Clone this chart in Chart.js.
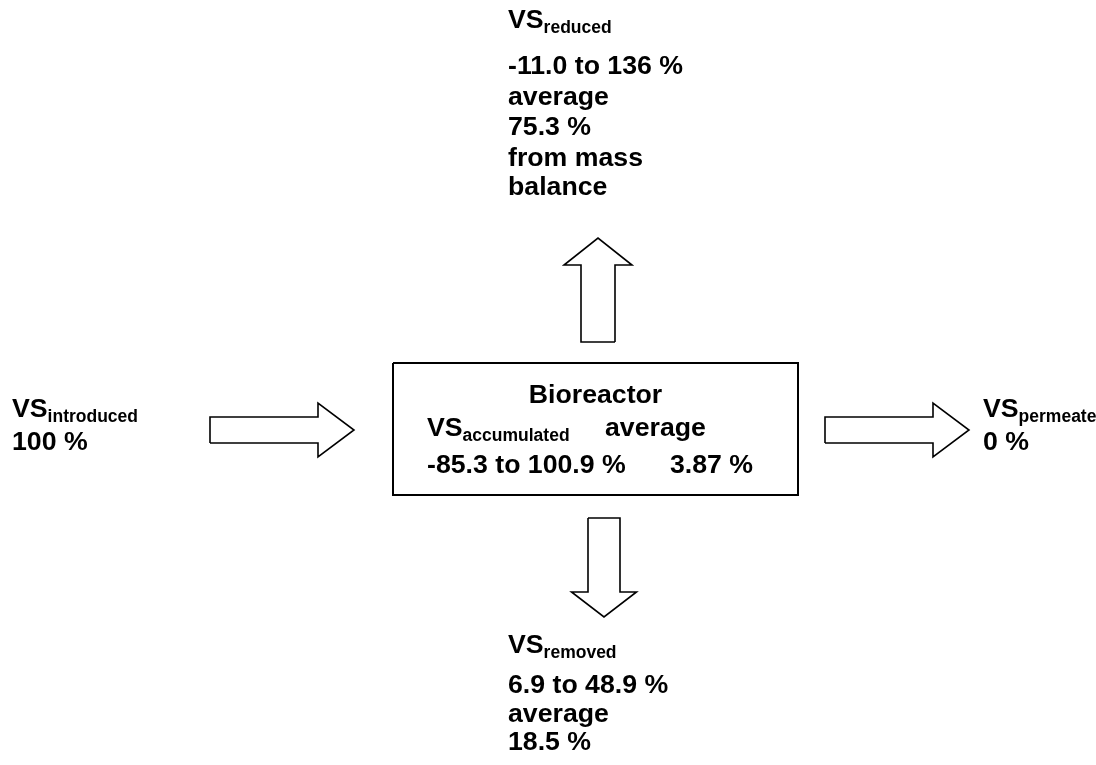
<!DOCTYPE html>
<html>
<head>
<meta charset="utf-8">
<script src="https://cdn.jsdelivr.net/npm/chart.js@4.4.1/dist/chart.umd.min.js"></script>
<style>
  html, body { margin: 0; padding: 0; background: #fff; }
  #wrap { width: 1096px; height: 765px; }
</style>
</head>
<body>
<div id="wrap"><canvas id="flowChart" width="1096" height="765"></canvas></div>
<script>
// flow labels (VS mass balance of the bioreactor)
const flowNames = ['introduced', 'reduced', 'permeate', 'removed'];
const flowRanges = ['100 %', '-11.0 to 136 %', '0 %', '6.9 to 48.9 %'];
const flowAverages = ['', '75.3 %', '', '18.5 %'];
const reactorRange = '-85.3 to 100.9 %';
const reactorAverage = '3.87 %';

// arrows: tail x/y -> tip x/y (diagram units = pixels of 1096x765 page)
const arrowTail = [[210, 430], [598, 342], [825, 430], [604, 518]];
const arrowTip  = [[354, 430], [598, 238], [969, 430], [604, 617]];
const shaftHalf = [13, 17, 13, 16];
const headHalf  = [27, 34, 27, 32.5];
const headLen   = [36, 27, 36, 25];

const reactorBox = [393, 363, 798, 495];

function arrowShape(i) {
  const [x0, y0] = arrowTail[i], [x1, y1] = arrowTip[i];
  const len = Math.hypot(x1 - x0, y1 - y0);
  const ux = (x1 - x0) / len, uy = (y1 - y0) / len;
  const nx = -uy, ny = ux;
  const bx = x1 - ux * headLen[i], by = y1 - uy * headLen[i];
  const s = shaftHalf[i], h = headHalf[i];
  const pts = [
    [x0 + nx * s, y0 + ny * s],
    [bx + nx * s, by + ny * s],
    [bx + nx * h, by + ny * h],
    [x1, y1],
    [bx - nx * h, by - ny * h],
    [bx - nx * s, by - ny * s],
    [x0 - nx * s, y0 - ny * s],
    [x0 + nx * s, y0 + ny * s]
  ];
  return pts.map(p => ({x: p[0], y: p[1]}));
}

function boxShape(b) {
  return [[b[0], b[1]], [b[2], b[1]], [b[2], b[3]], [b[0], b[3]], [b[0], b[1]]]
    .map(p => ({x: p[0], y: p[1]}));
}

const datasets = [];
for (let i = 0; i < arrowTail.length; i++) {
  datasets.push({ data: arrowShape(i), borderWidth: 1.6 });
}
datasets.push({ data: boxShape(reactorBox), borderWidth: 2 });

// text blocks: left x, baselines, lines of runs [text, isSub]
const FONT = "'Liberation Sans', Arial, sans-serif";
const textBlocks = [
  { x: 12, y: [417, 450], lines: [[['VS', 0], [flowNames[0], 1]], [[flowRanges[0], 0]]] },
  { x: 508, y: [28, 74, 105, 135, 166, 195], lines: [
      [['VS', 0], [flowNames[1], 1]], [[flowRanges[1], 0]], [['average', 0]],
      [[flowAverages[1], 0]], [['from mass', 0]], [['balance', 0]]] },
  { x: 983, y: [417, 450], lines: [[['VS', 0], [flowNames[2], 1]], [[flowRanges[2], 0]]] },
  { x: 508, y: [653, 693, 722, 750], lines: [
      [['VS', 0], [flowNames[3], 1]], [[flowRanges[3], 0]], [['average', 0]], [[flowAverages[3], 0]]] },
  { x: 427, y: [436, 473], lines: [[['VS', 0], ['accumulated', 1]], [[reactorRange, 0]]] },
  { x: 605, y: [436], lines: [[['average', 0]]] },
  { x: 670, y: [473], lines: [[[reactorAverage, 0]]] }
];

const textPlugin = {
  id: 'diagramText',
  afterDraw(chart) {
    const ctx = chart.ctx, sx = chart.scales.x, sy = chart.scales.y;
    ctx.save();
    ctx.fillStyle = '#000';
    ctx.textBaseline = 'alphabetic';
    // title in reactor box
    ctx.font = 'bold 26.7px ' + FONT;
    ctx.textAlign = 'center';
    ctx.fillText('Bioreactor', sx.getPixelForValue((reactorBox[0] + reactorBox[2]) / 2), sy.getPixelForValue(403));
    ctx.textAlign = 'left';
    textBlocks.forEach(b => {
      b.lines.forEach((line, li) => {
        let px = sx.getPixelForValue(b.x);
        const py = sy.getPixelForValue(b.y[li]);
        line.forEach(([t, sub]) => {
          ctx.font = (sub ? 'bold 17.5px ' : 'bold 26.7px ') + FONT;
          ctx.fillText(t, px, py + (sub ? 5 : 0));
          px += ctx.measureText(t).width;
        });
      });
    });
    ctx.restore();
  }
};

new Chart(document.getElementById('flowChart'), {
  type: 'line',
  data: { datasets: datasets },
  options: {
    responsive: false,
    animation: false,
    parsing: false,
    layout: { padding: 0 },
    elements: {
      line: { borderColor: '#000', tension: 0, fill: false, borderJoinStyle: 'miter' },
      point: { radius: 0, hoverRadius: 0 }
    },
    plugins: { legend: { display: false }, tooltip: { enabled: false } },
    scales: {
      x: { type: 'linear', min: 0, max: 1096, display: false },
      y: { type: 'linear', min: 0, max: 765, reverse: true, display: false }
    }
  },
  plugins: [textPlugin]
});
</script>
</body>
</html>
